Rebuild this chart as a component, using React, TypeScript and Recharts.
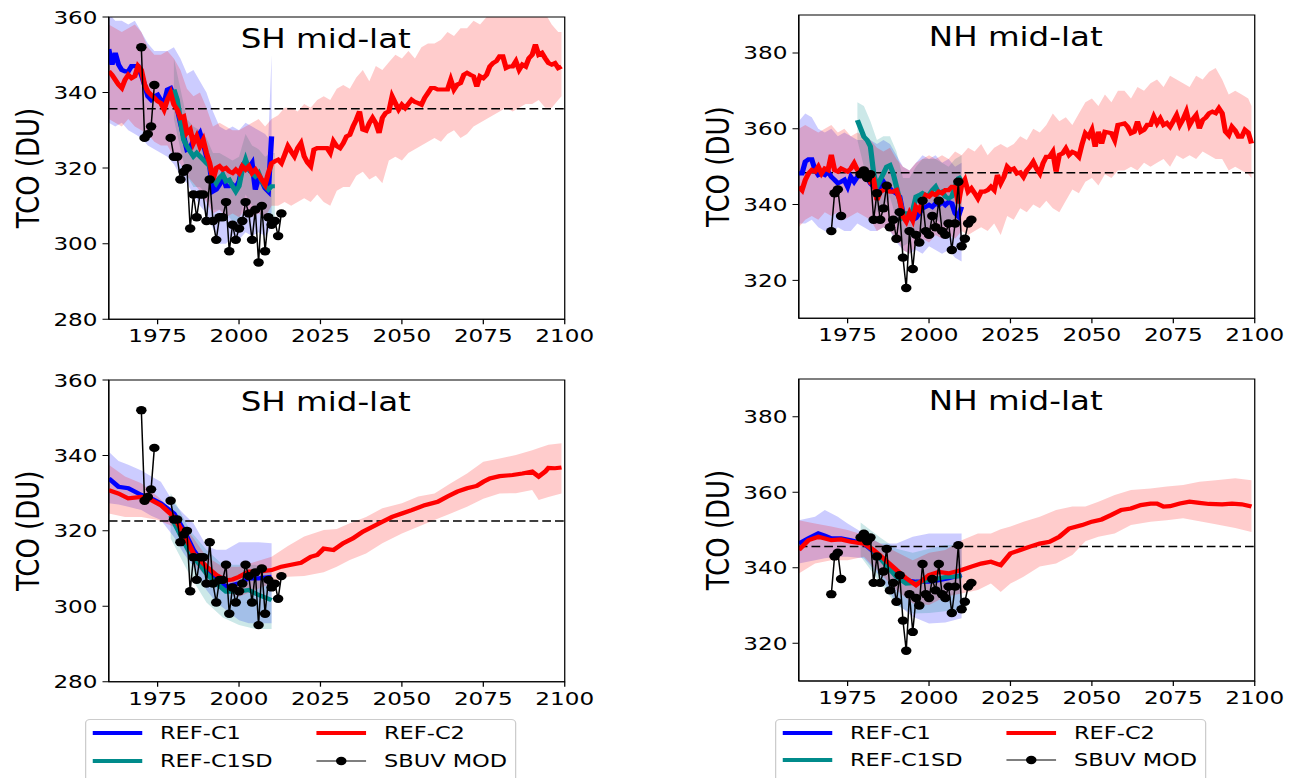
import React from "react";
import {
  Area,
  ComposedChart,
  Legend,
  Line,
  ReferenceArea,
  ReferenceLine,
  XAxis,
  YAxis,
} from "recharts";

const FONT = "'DejaVu Sans', sans-serif";
const BLUE = "#0000ff";
const RED = "#ff0000";
const TEAL = "#008b8b";

// ---- axes ----
const xTicks = [1975, 2000, 2025, 2050, 2075, 2100];
const shTicks = [280, 300, 320, 340, 360];
const nhTicks = [320, 340, 360, 380];

const yearsFrom = (a: number, b: number, step = 1) => {
  const out: number[] = [];
  for (let y = a; y <= b; y += step) out.push(y);
  return out;
};

// ---- SBUV MOD (same in top and bottom rows) ----
const sbuvYears = yearsFrom(1970, 2013);
const sbuvSH = [
  352, 328, 329, 331, 342, null, null, null, null, 328, 323, 323, 317, 319, 320, 304, 313, 307, 313, 313,
  306, 317, 306, 301, 307, 307, 311, 298, 305, 301, 304, 306, 311, 308, 301, 309, 295, 310, 298, 307,
  305, 306, 302, 308,
];
const sbuvNH = [
  333, 343, 344, 337, null, null, null, null, null, 348, 349, 347, 348, 336, 343, 336, 339, 345, 334, 336,
  331, 338, 326, 318, 333, 323, 332, 330, 341, 333, 332, 337, 334, 341, 333, 332, 335, 328, 335, 346,
  329, 331, 335, 336,
];

// ---- top row, SH mid-lat (yearly) ----
const c1Years = yearsFrom(1960, 2010);
const shTopC1 = [
  351.5, 347.4, 350.5, 347.4, 346, 345.6, 345.6, 347, 347, 347, 344.7, 342, 339, 338.1, 339, 339.4, 338,
  337.2, 340.8, 341.2, 339, 335.9, 332, 328.4, 324.9, 325.3, 327.5, 328, 329.3, 326.6, 323.1, 320.5, 313.8,
  314.3, 315.6, 317.8, 315.2, 315.2, 315.6, 314.7, 316.5, 320.5, 321.8, 320, 321.3, 314.3, 317.4, 316.5,
  314.7, 313.8, 328.4,
];
const c1BandYearsSH = [...yearsFrom(1960, 2008, 2), 2009, 2010];
const shTopC1Hi = [
  361, 359, 359, 358, 359, 356, 353, 351, 351, 351, 352, 349, 345, 346, 343, 340, 335, 331, 330, 331, 330,
  332, 331, 330, 329, 328, 350,
];
const shTopC1Lo = [
  332, 331, 332, 330, 329, 328, 326, 325, 324, 323, 321, 318, 316, 313, 310, 308, 304, 300, 300, 302, 301,
  303, 302, 303, 302, 303, 305,
];

const sdYearsSH = yearsFrom(1980, 2011);
const shTopSD = [
  340.8, 338.1, 332.8, 327.5, 325.8, 324.4, 323.1, 324, 323.1, 322.2, 321.3, 320.5, 317.4, 316, 317.4,
  318.3, 316.5, 316.9, 315.2, 313.8, 315.2, 319.6, 322.2, 319.6, 318.7, 317.8, 318.7, 316.5, 315.2, 314.3,
  315.2, 315.2,
];
const sdBandYearsSH = [...yearsFrom(1980, 2010, 2), 2011];
const shTopSDHi = [349, 341, 333, 331, 330, 328, 324, 324, 323, 322, 323, 329, 326, 325, 323, 324, 324];
const shTopSDLo = [333, 325, 318, 315, 315, 313, 309, 309, 308, 306, 306, 313, 310, 310, 307, 306, 307];

const c2Years = yearsFrom(1960, 2099);
const shTopC2Past = [
  345.6, 344.7, 343.4, 342.1, 341.2, 343.4, 344.7, 343.8, 344.3, 347, 346, 342.1, 340.3, 339.4, 338.6,
  337.7, 337.2, 335.5, 338.1, 339.9, 336.8, 335.5, 333.3, 333.7, 329.3, 330.2, 326.6, 328.4, 325.8, 327.5,
  324, 321.3, 316.9, 320, 320.5, 319.6, 320, 319.1, 318.7, 319.6, 318.7, 320.5, 319.6, 320.5, 318.7, 319.6,
  318.3, 316.9, 315.6, 318.7, 321.3, 321.8, 322.2, 321.3, 323.5, 325.8, 324.4, 323.1, 325.3, 326.6, 323.1,
  321.5, 320.5, 324.9, 325.3, 325.3, 325.3,
];
const shTopC2Future = [
  325.3, 324, 327.1, 325.8, 325.3, 326.6, 328.4, 328.8, 331, 332.8, 335, 330.2, 329.9, 331.9, 333.3, 331.9,
  329.3, 333.3, 334.6, 335, 339, 337.2, 335.5, 336.8, 335.9, 337, 338.1, 337.5, 337.2, 336.8, 338.6, 339.9,
  341.2, 341.2, 340.8, 340.8, 340.8, 340.8, 343.4, 340.8, 342.1, 342.5, 344.7, 345.2, 344.7, 344.3, 341.6,
  344.3, 343.8, 344.7, 346.9, 347.8, 348.3, 349.6, 349.6, 346.5, 346.9, 346.9, 348.3, 346, 347.4, 346.9,
  349.1, 350, 352.7, 350, 350.5, 349.1, 347.8, 347.4, 347.8, 346.5, 346.9,
];
const c2BandYears = [...yearsFrom(1960, 2098, 2), 2099];
const shTopC2Hi = [
  358, 357, 356, 357, 358, 356, 352, 350, 350, 351, 349, 346, 341, 339, 340, 336, 331, 332, 331, 330, 330,
  331, 332, 333, 331, 333, 334, 336, 336, 335, 337, 336, 338, 339, 338, 341, 342, 341, 344, 346, 343, 347,
  346, 348, 350, 349, 351, 349, 352, 353, 353, 354, 356, 355, 357, 357, 359, 358, 360, 361, 362, 361, 362,
  361, 362, 363, 362, 361, 358, 356, 356,
];
const shTopC2Lo = [
  333, 332, 331, 333, 331, 330, 329, 327, 326, 326, 323, 321, 318, 316, 314, 311, 308, 309, 307, 308, 307,
  309, 307, 308, 307, 310, 310, 311, 310, 311, 312, 311, 313, 311, 310, 314, 315, 315, 318, 319, 317, 318,
  316, 322, 323, 322, 324, 325, 326, 327, 328, 327, 329, 330, 328, 329, 331, 332, 333, 334, 335, 336, 335,
  336, 337, 337, 338, 336, 336, 338, 339,
];

// ---- top row, NH mid-lat (yearly) ----
const nhTopC1 = [
  348.2, 348.2, 351.3, 351.9, 351.9, 349.1, 347.8, 348.2, 347.8, 348.7, 347.3, 346.5, 345.6, 346, 346.5,
  344.7, 347.3, 346, 347.3, 348.2, 347.8, 347.3, 345.6, 344.7, 344.7, 343.8, 346, 344.7, 344.3, 343.4,
  342.9, 342.1, 337.7, 336.8, 336.8, 335.9, 336.4, 337.7, 339, 339.4, 339.9, 339.4, 340.3, 339.9, 340.7,
  339.9, 340.7, 340.3, 337.7, 336.8, 339.4,
];
const c1BandYearsNH = yearsFrom(1960, 2010, 2);
const nhTopC1Hi = [
  362, 364, 363, 360, 359, 360, 358, 359, 358, 357, 357, 357, 356, 357, 356, 353, 350, 349, 351, 353, 352,
  353, 351, 352, 350, 351,
];
const nhTopC1Lo = [
  335, 335, 336, 334, 333, 332, 334, 333, 333, 335, 334, 333, 333, 334, 333, 330, 328, 327, 328, 327, 329,
  328, 327, 328, 326, 325,
];

const sdYearsNH = yearsFrom(1978, 2010);
const nhTopSD = [
  362.3, 360.1, 357.9, 357, 355.3, 348.2, 344.7, 346.5, 348.2, 350, 350.4, 348.2, 344.7, 341.2, 336.8,
  337.7, 337.7, 338.5, 342.1, 342.5, 343, 342.5, 342.5, 343.8, 344.7, 343, 343.4, 342.1, 341.6, 342.1,
  344.7, 346.9, 347.3,
];
const sdBandYearsNH = yearsFrom(1978, 2010, 2);
const nhTopSDHi = [367, 366, 362, 357, 358, 358, 354, 347, 347, 350, 352, 352, 352, 351, 350, 352, 353];
const nhTopSDLo = [357, 350, 346, 338, 339, 342, 336, 329, 330, 333, 334, 334, 336, 335, 334, 336, 340];

const nhTopC2Past = [
  344.7, 343.8, 346.5, 348.2, 349.1, 348.7, 350, 348.2, 349.5, 349.1, 353.1, 349.1, 348.7, 349.5, 349.1,
  348.7, 349.5, 350.9, 349.1, 348.2, 349.1, 348.2, 346, 346.5, 341.2, 343.4, 343.8, 344.3, 343.4, 343.4,
  343.8, 341.2, 336.8, 335.5, 337.7, 335.9, 339.4, 338.5, 340.7, 342.5, 342.1, 343, 342.5, 343.4, 343,
  343.8, 343.8, 344.7, 344.7, 340.3, 345.1, 346.5, 343.4, 344.3, 343, 341.6, 343.4, 343.4, 343.8, 344.7,
  343.8, 347.8, 345.6, 347.3, 350, 349.1,
];
const nhTopC2Future = [
  349.5, 348.2, 348.5, 347.3, 349, 350, 351.3, 349.5, 348.2, 350.9, 352.6, 352.6, 353.9, 348.7, 353.1,
  353.5, 354.8, 353.1, 353.9, 353.5, 352.6, 356, 358.8, 357.9, 359.7, 355.3, 359.2, 356.1, 359.2, 359,
  358.8, 357, 361, 361.2, 361.4, 360.5, 358.8, 359.2, 361.9, 359.2, 359.7, 361, 361, 363.2, 361.4, 362.7,
  361, 361.5, 360.5, 362, 363.6, 361, 362.5, 364.5, 361, 362.5, 363.6, 360.1, 362.3, 363, 364.1, 364.5,
  364.1, 365.4, 364.1, 359.2, 358.3, 360.5, 359.5, 357.9, 357.9, 359.7, 359, 356.1,
];
const nhTopC2Hi = [
  360, 361, 360, 359, 360, 361, 359, 360, 358, 359, 358, 357, 355, 354, 355, 352, 350, 349, 351, 352, 353,
  352, 353, 352, 354, 353, 355, 354, 356, 353, 355, 356, 355, 356, 358, 357, 360, 359, 361, 364, 362, 363,
  361, 364, 367, 368, 366, 369, 367, 370, 370, 368, 371, 370, 372, 373, 371, 374, 373, 372, 371, 374, 373,
  375, 376, 373, 369, 370, 369, 368, 366,
];
const nhTopC2Lo = [
  334, 336, 337, 336, 338, 337, 338, 336, 337, 338, 337, 336, 333, 334, 333, 331, 328, 327, 329, 331, 330,
  332, 331, 332, 331, 333, 332, 333, 334, 333, 335, 332, 337, 336, 339, 338, 340, 339, 341, 339, 338, 341,
  344, 343, 346, 347, 345, 348, 347, 349, 349, 350, 349, 351, 350, 351, 352, 350, 353, 352, 353, 352, 354,
  353, 352, 352, 349, 350, 349, 348, 347,
];

// ---- bottom row, SH mid-lat (smoothed) ----
const shBotC1Years = [1960, 1963, 1966, 1970, 1973, 1976, 1980, 1983, 1986, 1990, 1993, 1996, 2000, 2003, 2006, 2010];
const shBotC1 = [333.9, 331.7, 331.3, 329.5, 328.6, 327.3, 324.6, 320.2, 314.9, 310, 307.4, 305.2, 306.1, 307.4, 307.4, 307.8];
const shBotC1Hi = [341, 338.5, 337.5, 336, 334.5, 333, 327.3, 324.5, 322, 316, 315, 315, 317, 317, 317, 316.7];
const shBotC1Lo = [327.3, 327, 326.4, 325.5, 324, 322.9, 318.4, 314, 310.5, 304.3, 301, 299, 296.3, 295.5, 295.5, 295.5];

const shBotSDYears = [1979, 1982, 1985, 1988, 1990, 1993, 1996, 2000, 2003, 2006, 2010];
const shBotSD = [324, 319, 314, 311, 308.7, 306.1, 303.9, 303.9, 304.3, 303, 301.6];
const shBotSDBandYears = [1979, 1985, 1990, 1995, 2000, 2005, 2010];
const shBotSDHi = [330, 320, 315, 311, 311, 311, 309];
const shBotSDLo = [318, 308, 301, 297, 295, 294, 294];

const shBotC2Years = [
  1960, 1963, 1966, 1970, 1973, 1976, 1980, 1983, 1986, 1990, 1993, 1996, 1998, 2000, 2003, 2006, 2010,
  2013, 2016, 2019, 2022, 2024, 2026, 2029, 2032, 2035, 2038, 2041, 2044, 2047, 2050, 2053, 2057, 2061,
  2064, 2067, 2070, 2073, 2075, 2077, 2080, 2084, 2087, 2090, 2092, 2094, 2095, 2097, 2099,
];
const shBotC2 = [
  330.8, 329.9, 328.6, 329, 328.2, 326.8, 323.7, 319.3, 314, 310.5, 308.3, 306.9, 307.1, 307.8, 309.2,
  309.2, 309.6, 310.5, 311, 311.5, 313.1, 313.6, 315.3, 314.9, 316.7, 318, 319.8, 321.1, 322.4, 323.7,
  324.6, 325.5, 326.8, 327.7, 329.1, 330.4, 331.3, 331.9, 333, 333.9, 334.5, 334.8, 335.2, 335.7, 334.4,
  335.7, 336.7, 336.6, 336.8,
];
const shBotC2BandYears = [
  1960, 1965, 1970, 1975, 1980, 1985, 1990, 1995, 2000, 2005, 2010, 2015, 2020, 2026, 2030, 2034, 2039,
  2044, 2050, 2055, 2060, 2065, 2070, 2075, 2080, 2085, 2090, 2092, 2095, 2099,
];
const shBotC2Hi = [
  337.5, 334.4, 332.6, 329.1, 325.1, 319.3, 313.1, 310.5, 310.5, 311.8, 313.1, 316, 318.5, 320.2, 320.5,
  322, 323.7, 326, 327.3, 329.1, 329.9, 332.6, 335.2, 338.3, 339.2, 340.1, 341.4, 342, 342.8, 343.2,
];
const shBotC2Lo = [
  324.6, 323.7, 323.7, 322.9, 321.1, 312.3, 307.8, 304.3, 302.5, 304.3, 306.1, 307.8, 308, 309, 310.5,
  312.3, 314, 316.7, 319.3, 321.1, 322.9, 324.6, 326.4, 328.5, 329.9, 330, 330.8, 328.2, 329, 329.9,
];

// ---- bottom row, NH mid-lat (smoothed) ----
const nhBotC1Years = [1960, 1963, 1966, 1968, 1970, 1973, 1976, 1980, 1983, 1986, 1990, 1993, 1996, 2000, 2003, 2006, 2010];
const nhBotC1 = [346.4, 347.8, 349.1, 348.5, 347.8, 347.8, 347.3, 346.4, 344.2, 342, 338.9, 336.7, 336.3, 336.3, 336.7, 337.2, 338.1];
const nhBotC1BandYears = [1960, 1965, 1968, 1972, 1975, 1980, 1985, 1990, 1995, 2000, 2005, 2010];
const nhBotC1Hi = [352.6, 353.5, 355.3, 353.5, 351.7, 349.1, 346.4, 346.4, 348.2, 349.1, 349.1, 349.1];
const nhBotC1Lo = [341.1, 342, 342.5, 342.9, 342.9, 342.5, 337.6, 330.5, 327, 325.2, 325.5, 326.6];

const nhBotSDYears = [1979, 1983, 1986, 1990, 1993, 1996, 2000, 2005, 2010];
const nhBotSD = [347.5, 344.5, 341.5, 337.6, 335.8, 336, 336.7, 337.5, 337.8];
const nhBotSDBandYears = [1979, 1985, 1990, 1995, 2000, 2005, 2010];
const nhBotSDHi = [352, 348, 345, 344, 345, 346, 346];
const nhBotSDLo = [343, 336, 330, 327.9, 328, 328.5, 329];

const nhBotC2Years = [
  1960, 1963, 1966, 1970, 1973, 1976, 1980, 1983, 1986, 1990, 1993, 1996, 1998, 2000, 2003, 2006, 2010,
  2013, 2016, 2019, 2022, 2025, 2028, 2031, 2034, 2037, 2040, 2043, 2047, 2050, 2053, 2056, 2059, 2062,
  2065, 2068, 2070, 2072, 2074, 2077, 2080, 2083, 2086, 2090, 2093, 2096, 2099,
];
const nhBotC2 = [
  344.7, 347.3, 348.2, 347.3, 347.5, 346.9, 346.4, 344.7, 342.5, 339.4, 337.2, 335.4, 336.7, 338.1, 338.9,
  338.5, 339.4, 340.3, 341.1, 341.6, 340.7, 343.8, 344.7, 345.6, 346.4, 346.9, 348.2, 350.4, 351.3, 352.2,
  352.8, 354, 355.3, 355.7, 356.6, 357, 357, 356.2, 356.3, 357, 357.5, 357.2, 356.9, 356.8, 357, 356.8,
  356.2,
];
const nhBotC2BandYears = [
  1960, 1965, 1970, 1975, 1980, 1985, 1990, 1995, 2000, 2005, 2010, 2015, 2019, 2022, 2025, 2029, 2034,
  2039, 2044, 2048, 2052, 2057, 2062, 2068, 2073, 2078, 2083, 2088, 2094, 2099,
];
const nhBotC2Hi = [
  352.6, 351.7, 350.9, 350, 348.7, 346.4, 344.2, 342, 344, 344.7, 347.3, 349.1, 349.1, 350.2, 350.9, 352.2,
  353.5, 355.3, 356.2, 356.2, 357.5, 359.3, 360.6, 361, 361.5, 361.9, 362.8, 363.2, 363.7, 363.2,
];
const nhBotC2Lo = [
  338.5, 341.1, 342, 342, 342.9, 338.5, 334.1, 330.5, 330.1, 332.3, 333.2, 334.1, 335.8, 333.6, 335.8,
  337.6, 340.3, 341.1, 343.4, 347, 348.2, 349.1, 351.3, 352.2, 352.6, 353.1, 352.3, 351.5, 350.5, 349.5,
];

// dashed reference levels
const refSHTop = 335.7;
const refNHTop = 348.4;
const refSHBot = 322.6;
const refNHBot = 345.6;

// ---- row builders ----
const toLine = (years: number[], values: (number | null)[]) =>
  years.map((year, i) => ({ year, v: values[i] }));
const toBand = (years: number[], lo: number[], hi: number[]) =>
  years.map((year, i) => ({ year, r: [lo[i], hi[i]] }));

type Row = { year: number; v?: number | null; r?: number[] };

type PanelProps = {
  plotLeft: number;
  plotTop: number;
  plotH: number;
  title: string;
  yDomain: [number, number];
  yTicks: number[];
  refY: number;
  c1Band: Row[];
  sdBand: Row[];
  c2Band: Row[];
  c1: Row[];
  sd: Row[];
  c2: Row[];
  sbuv: Row[];
  legend?: boolean;
};

const PLOT_W = 364.8;
const AXIS_W = 80;
const TOP_PAD = 10;
const RIGHT_PAD = 30;
const X_AXIS_H = 40;
const LW = 4.2;

const legendItems = [
  { name: "REF-C1", color: BLUE, col: 0, row: 0, marker: false },
  { name: "REF-C2", color: RED, col: 1, row: 0, marker: false },
  { name: "REF-C1SD", color: TEAL, col: 0, row: 1, marker: false },
  { name: "SBUV MOD", color: "#000", col: 1, row: 1, marker: true },
];

const LegendBox = () => {
  const lineX = [5.2, 184.4];
  const textX = [59, 238.2];
  const rowY = [13, 40.4];
  return (
    <div
      style={{
        position: "relative",
        width: 345.4,
        height: 64,
        boxSizing: "border-box",
        border: "1px solid #cccccc",
        borderRadius: 4,
        background: "#fff",
        fontFamily: FONT,
        fontSize: 18,
        color: "#000",
      }}
    >
      {legendItems.map((it) => (
        <React.Fragment key={it.name}>
          <svg
            width={40}
            height={12}
            style={{ position: "absolute", left: lineX[it.col], top: rowY[it.row] - 6 }}
          >
            <line
              x1={0}
              x2={40}
              y1={6}
              y2={6}
              stroke={it.color}
              strokeWidth={it.marker ? 1.2 : 4}
            />
            {it.marker && <circle cx={20} cy={6} r={4.2} fill="#000" />}
          </svg>
          <span
            style={{
              position: "absolute",
              left: textX[it.col],
              top: rowY[it.row] - 10,
              lineHeight: "20px",
              whiteSpace: "nowrap",
            }}
          >
            {it.name}
          </span>
        </React.Fragment>
      ))}
    </div>
  );
};

function Panel(p: PanelProps) {
  const w = AXIS_W + PLOT_W + RIGHT_PAD;
  const h = TOP_PAD + p.plotH + X_AXIS_H;
  const cy = TOP_PAD + p.plotH / 2;
  const tickStyle = { fill: "#000", fontSize: 18.5, fontFamily: FONT };
  return (
    <>
      <div style={{ position: "absolute", left: p.plotLeft - AXIS_W, top: p.plotTop - TOP_PAD }}>
        <ComposedChart
          width={w}
          height={h}
          margin={{ top: TOP_PAD, right: RIGHT_PAD, bottom: 0, left: 0 }}
        >
          <XAxis
            dataKey="year"
            type="number"
            domain={[1960, 2100]}
            ticks={xTicks}
            interval={0}
            allowDataOverflow
            height={X_AXIS_H}
            tickSize={5}
            tickMargin={5}
            stroke="#000"
            tick={tickStyle}
          />
          <YAxis
            type="number"
            domain={p.yDomain}
            ticks={p.yTicks}
            interval={0}
            allowDataOverflow
            width={AXIS_W}
            tickSize={5}
            tickMargin={4}
            stroke="#000"
            tick={tickStyle}
            label={() => (
              <text
                x={15.4}
                y={cy}
                transform={`rotate(-90 15.4 ${cy})`}
                textAnchor="middle"
                dominantBaseline="central"
                fontSize={26}
                fontFamily={FONT}
                fill="#000"
              >
                TCO (DU)
              </text>
            )}
          />
          <Area data={p.c1Band} dataKey="r" stroke="none" fill={BLUE} fillOpacity={0.2} dot={false} activeDot={false} isAnimationActive={false} />
          <Area data={p.sdBand} dataKey="r" stroke="none" fill={TEAL} fillOpacity={0.2} dot={false} activeDot={false} isAnimationActive={false} />
          <Area data={p.c2Band} dataKey="r" stroke="none" fill={RED} fillOpacity={0.2} dot={false} activeDot={false} isAnimationActive={false} />
          <ReferenceLine y={p.refY} stroke="#000" strokeWidth={1.5} strokeDasharray="7 3.2" />
          <Line data={p.c1} dataKey="v" stroke={BLUE} strokeWidth={LW} dot={false} activeDot={false} isAnimationActive={false} />
          <Line data={p.sd} dataKey="v" stroke={TEAL} strokeWidth={LW} dot={false} activeDot={false} isAnimationActive={false} />
          <Line data={p.c2} dataKey="v" stroke={RED} strokeWidth={LW} dot={false} activeDot={false} isAnimationActive={false} />
          <Line
            data={p.sbuv}
            dataKey="v"
            stroke="#000"
            strokeWidth={1.2}
            dot={{ r: 4.2, fill: "#000", stroke: "none" }}
            activeDot={false}
            connectNulls={false}
            isAnimationActive={false}
          />
          <ReferenceArea
            x1={1960}
            x2={2100}
            y1={p.yDomain[0]}
            y2={p.yDomain[1]}
            fill="none"
            fillOpacity={0}
            stroke="#000"
            strokeWidth={1}
          />
          {p.legend && (
            <Legend
              layout="horizontal"
              align="center"
              verticalAlign="middle"
              content={() => <LegendBox />}
              wrapperStyle={{ left: 61.4, top: p.plotH + TOP_PAD + 37.6, width: 345.4, height: 64 }}
            />
          )}
        </ComposedChart>
      </div>
      <div
        style={{
          position: "absolute",
          left: p.plotLeft + 174 - 150,
          top: p.plotTop + 9,
          width: 300,
          textAlign: "center",
          fontSize: 26,
          lineHeight: "26px",
          fontFamily: FONT,
          color: "#000",
        }}
      >
        {p.title}
      </div>
    </>
  );
}

export default function App() {
  const sbuvSHRows = toLine(sbuvYears, sbuvSH);
  const sbuvNHRows = toLine(sbuvYears, sbuvNH);
  return (
    <div
      style={{
        position: "absolute",
        left: 0,
        top: 0,
        width: 1032,
        height: 778,
        overflow: "hidden",
        transform: "scaleX(1.25)",
        transformOrigin: "0 0",
        background: "#fff",
        fontFamily: FONT,
      }}
    >
      <Panel
        plotLeft={86.6}
        plotTop={17.3}
        plotH={302.2}
        title="SH mid-lat"
        yDomain={[280, 360]}
        yTicks={shTicks}
        refY={refSHTop}
        c1Band={toBand(c1BandYearsSH, shTopC1Lo, shTopC1Hi)}
        sdBand={toBand(sdBandYearsSH, shTopSDLo, shTopSDHi)}
        c2Band={toBand(c2BandYears, shTopC2Lo, shTopC2Hi)}
        c1={toLine(c1Years, shTopC1)}
        sd={toLine(sdYearsSH, shTopSD)}
        c2={toLine(c2Years, [...shTopC2Past, ...shTopC2Future])}
        sbuv={sbuvSHRows}
      />
      <Panel
        plotLeft={638.6}
        plotTop={15}
        plotH={303.3}
        title="NH mid-lat"
        yDomain={[310, 390]}
        yTicks={nhTicks}
        refY={refNHTop}
        c1Band={toBand(c1BandYearsNH, nhTopC1Lo, nhTopC1Hi)}
        sdBand={toBand(sdBandYearsNH, nhTopSDLo, nhTopSDHi)}
        c2Band={toBand(c2BandYears, nhTopC2Lo, nhTopC2Hi)}
        c1={toLine(c1Years, nhTopC1)}
        sd={toLine(sdYearsNH, nhTopSD)}
        c2={toLine(c2Years, [...nhTopC2Past, ...nhTopC2Future])}
        sbuv={sbuvNHRows}
      />
      <Panel
        plotLeft={86.6}
        plotTop={380}
        plotH={301.7}
        title="SH mid-lat"
        yDomain={[280, 360]}
        yTicks={shTicks}
        refY={refSHBot}
        c1Band={toBand(shBotC1Years, shBotC1Lo, shBotC1Hi)}
        sdBand={toBand(shBotSDBandYears, shBotSDLo, shBotSDHi)}
        c2Band={toBand(shBotC2BandYears, shBotC2Lo, shBotC2Hi)}
        c1={toLine(shBotC1Years, shBotC1)}
        sd={toLine(shBotSDYears, shBotSD)}
        c2={toLine(shBotC2Years, shBotC2)}
        sbuv={sbuvSHRows}
        legend
      />
      <Panel
        plotLeft={638.6}
        plotTop={379}
        plotH={302}
        title="NH mid-lat"
        yDomain={[310, 390]}
        yTicks={nhTicks}
        refY={refNHBot}
        c1Band={toBand(nhBotC1BandYears, nhBotC1Lo, nhBotC1Hi)}
        sdBand={toBand(nhBotSDBandYears, nhBotSDLo, nhBotSDHi)}
        c2Band={toBand(nhBotC2BandYears, nhBotC2Lo, nhBotC2Hi)}
        c1={toLine(nhBotC1Years, nhBotC1)}
        sd={toLine(nhBotSDYears, nhBotSD)}
        c2={toLine(nhBotC2Years, nhBotC2)}
        sbuv={sbuvNHRows}
        legend
      />
    </div>
  );
}
